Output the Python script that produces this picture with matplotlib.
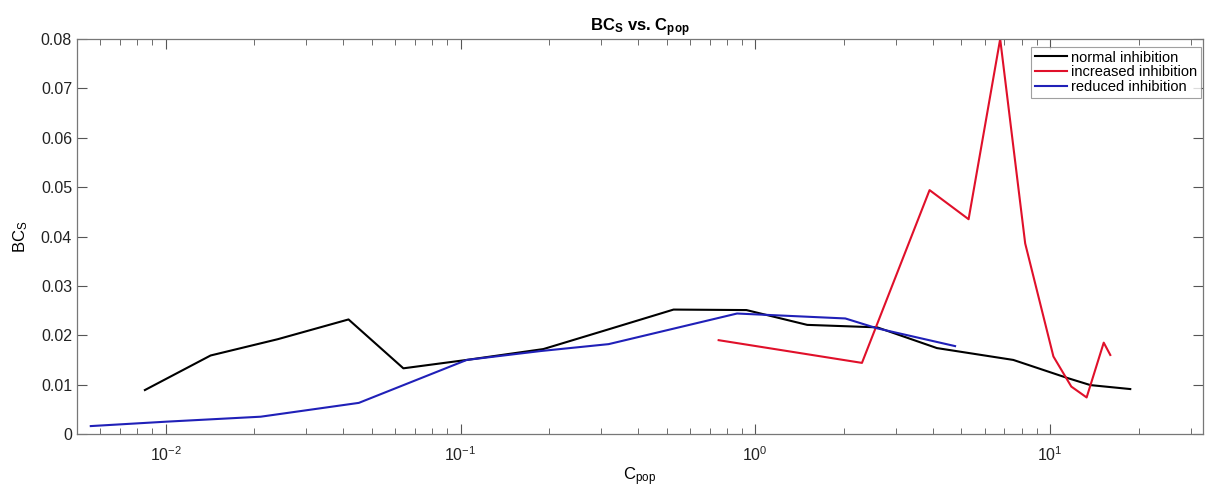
import matplotlib
matplotlib.use("Agg")
import matplotlib.pyplot as plt
from matplotlib.ticker import LogLocator, NullFormatter

plt.rcParams["font.family"] = ["Liberation Sans", "DejaVu Sans"]
plt.rcParams["mathtext.fontset"] = "custom"
plt.rcParams["mathtext.rm"] = "Liberation Sans"
plt.rcParams["mathtext.bf"] = "Liberation Sans:bold"

# ── Données ──────────────────────────────────────────────────────────
normal_x = [0.0085, 0.0142, 0.024, 0.0417, 0.064, 0.105, 0.191, 0.314,
            0.528, 0.933, 1.50, 2.59, 4.13, 7.5, 11.5, 13.7, 18.7]
normal_y = [0.0089, 0.0159, 0.0192, 0.0232, 0.0133, 0.0150, 0.0172, 0.0211,
            0.0252, 0.0251, 0.0221, 0.0216, 0.0174, 0.0150, 0.0113, 0.0099, 0.0091]

increased_x = [0.751, 2.30, 3.90, 5.29, 6.77, 8.23, 10.26, 11.8, 13.3, 15.2, 16.0]
increased_y = [0.0190, 0.0144, 0.0494, 0.0435, 0.0800, 0.0386, 0.0157,
               0.0096, 0.0074, 0.0185, 0.0160]

reduced_x = [0.00557, 0.0101, 0.021, 0.0452, 0.105, 0.187, 0.318, 0.867,
             2.02, 2.59, 4.76]
reduced_y = [0.0016, 0.0025, 0.0035, 0.0063, 0.0150, 0.0168, 0.0182, 0.0244,
             0.0234, 0.0214, 0.0178]

labels = ["normal inhibition", "increased inhibition", "reduced inhibition"]
xtick_vals = [0.01, 0.1, 1, 10]
xtick_labels = [r"$10^{-2}$", r"$10^{-1}$", r"$10^{0}$", r"$10^{1}$"]

# ── Figure ───────────────────────────────────────────────────────────
fig = plt.figure(figsize=(12.1, 4.88), dpi=100)
ax = fig.add_axes([0.0636, 0.1107, 0.9306, 0.8093])

ax.plot(normal_x, normal_y, color="black", lw=1.5, label=labels[0])
ax.plot(increased_x, increased_y, color="#e0102a", lw=1.5, label=labels[1])
ax.plot(reduced_x, reduced_y, color="#2020b8", lw=1.5, label=labels[2])

ax.set_xscale("log")
ax.set_xlim(0.005, 33)
ax.set_ylim(0, 0.08)
ax.set_yticks([0, 0.01, 0.02, 0.03, 0.04, 0.05, 0.06, 0.07, 0.08])
ax.set_yticklabels(["0", "0.01", "0.02", "0.03", "0.04", "0.05", "0.06", "0.07", "0.08"])
ax.set_xticks(xtick_vals)
ax.set_xticklabels(xtick_labels)
ax.xaxis.set_minor_locator(LogLocator(base=10, subs=range(2, 10)))
ax.xaxis.set_minor_formatter(NullFormatter())

ax.tick_params(which="both", direction="in", top=True, right=True,
               colors="#555555", labelcolor="#222222", labelsize=11.5)
ax.tick_params(which="major", length=7)
ax.tick_params(which="minor", length=4)
ax.tick_params(axis="x", which="major", pad=8)
for sp in ax.spines.values():
    sp.set_color("#777777")
    sp.set_linewidth(0.9)

ax.set_title(r"$\mathbf{BC_S}$ vs. $\mathbf{C_{pop}}$", fontsize=12,
             fontweight="bold", pad=4)
ax.set_xlabel(r"$\mathrm{C_{pop}}$", fontsize=12, labelpad=1)
ax.set_ylabel(r"$\mathrm{BC_S}$", fontsize=12, labelpad=8)

leg = ax.legend(loc="upper right", bbox_to_anchor=(0.998, 0.98),
                fontsize=10.5, frameon=True, fancybox=False,
                borderpad=0.25, labelspacing=0.05, handlelength=2.2,
                handletextpad=0.3, borderaxespad=0.0)
leg.get_frame().set_edgecolor("#888888")
leg.get_frame().set_linewidth(0.8)

fig.savefig("out.png", dpi=100)
